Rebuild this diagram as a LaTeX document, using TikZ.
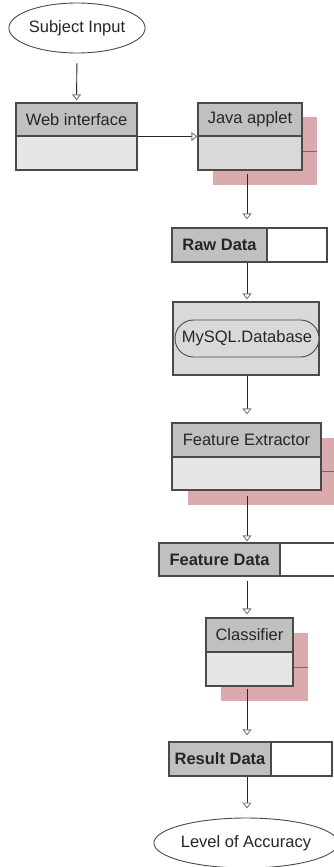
\documentclass[tikz,border=0pt]{standalone}
\usepackage{fontspec}
\setmainfont{Liberation Sans}
\usetikzlibrary{arrows.meta,shapes.geometric,shapes.misc}

\definecolor{hdrgray}{HTML}{C0C0C0}
\definecolor{bodygray}{HTML}{E6E6E6}
\definecolor{dbgray}{HTML}{D9D9D9}
\definecolor{shadowpink}{HTML}{DAAAAC}
\definecolor{shadowline}{HTML}{8E5E5E}
\definecolor{edge}{HTML}{4A4A4A}
\definecolor{ink}{HTML}{262626}
\definecolor{tipgray}{HTML}{7A7A7A}

\tikzset{
  box/.style={draw=edge, line width=1.1pt, inner sep=0pt, text=ink,
    font=\fontsize{16.5pt}{19pt}\selectfont},
  hdr/.style={box, fill=hdrgray},
  body/.style={box, fill=bodygray},
  datalabel/.style={box, fill=hdrgray, font=\fontsize{16.5pt}{19pt}\selectfont\bfseries},
  dataslot/.style={box, fill=white},
  terminal/.style={ellipse, draw=edge, line width=0.9pt, fill=white, inner sep=0pt,
    text=ink, font=\fontsize{16.5pt}{19pt}\selectfont},
  stackshadow/.style={draw=none, fill=shadowpink, inner sep=0pt},
  stackline/.style={draw=shadowline, line width=0.8pt},
  flow/.style={draw=ink, line width=0.9pt,
    -{Triangle[open, length=6pt, width=9pt, color=tipgray]}}
}

\begin{document}
\begin{tikzpicture}[x=1pt, y=-1pt]
  \useasboundingbox (0,0) rectangle (334,867);
  \clip (0,0) rectangle (334,867);
  \fill[white] (0,0) rectangle (334,867);

  % column that carries the vertical flow
  \coordinate (col) at (247,0);

  % start terminal
  \node[terminal, minimum width=133pt, minimum height=50pt] (subj) at (77,28) {Subject Input};

  % web interface
  \node[hdr,  minimum width=121pt, minimum height=33pt] (webH) at (76.5,119.5) {Web interface};
  \node[body, minimum width=121pt, minimum height=34pt] (webB) at (76.5,153) {};

  % java applet with stacked shadow
  \node[stackshadow, minimum width=104pt, minimum height=68pt] (javaS) at (265,151) {};
  \node[hdr, minimum width=104pt, minimum height=33pt] (javaH) at (250,119.5) {Java applet};
  \node[box, fill=dbgray, minimum width=104pt, minimum height=34pt] (javaB) at (250,153) {};
  \draw[stackline] (javaS.center -| javaB.east) -- (javaS.east);

  % raw data store
  \node[datalabel, minimum width=95pt, minimum height=34pt] (rawL) at (219.5,245) {Raw Data};
  \node[dataslot,  minimum width=60pt, minimum height=34pt] (rawR) at (297,245) {};

  % database
  \node[box, fill=dbgray, minimum width=146pt, minimum height=73pt] (db) at (246,338.5) {};
  \node[rounded rectangle, draw=edge, line width=0.9pt, fill=dbgray, inner sep=0pt,
        minimum width=144pt, minimum height=37pt, text=ink,
        font=\fontsize{16.5pt}{19pt}\selectfont] (dbL) at (247,338.5) {MySQL.Database};

  % feature extractor with stacked shadow
  \node[stackshadow, minimum width=162pt, minimum height=67pt] (feS) at (269,471.5) {};
  \node[hdr,  minimum width=149pt, minimum height=34pt] (feH) at (246.5,440) {Feature Extractor};
  \node[body, minimum width=149pt, minimum height=33pt] (feB) at (246.5,473.5) {};
  \draw[stackline] (feS.center -| feB.east) -- (feS.east);

  % feature data store
  \node[datalabel, minimum width=121pt, minimum height=33pt] (fdL) at (219.5,559.5) {Feature Data};
  \node[dataslot,  minimum width=70pt,  minimum height=33pt] (fdR) at (315,559.5) {};

  % classifier with stacked shadow
  \node[stackshadow, minimum width=87pt, minimum height=68pt] (clS) at (264.5,667) {};
  \node[hdr,  minimum width=87pt, minimum height=34pt] (clH) at (249.5,635) {Classifier};
  \node[body, minimum width=87pt, minimum height=34pt] (clB) at (249.5,669) {};
  \draw[stackline] (clS.center -| clB.east) -- (clS.east);

  % result data store
  \node[datalabel, minimum width=102pt, minimum height=34pt] (resL) at (220,759) {Result Data};
  \node[dataslot,  minimum width=61pt,  minimum height=34pt] (resR) at (301.5,759) {};

  % end terminal
  \node[terminal, minimum width=173pt, minimum height=50pt] (acc) at (246,843) {Level of Accuracy};

  % connectors
  \draw[flow, shorten <=10pt, shorten >=2pt] (subj.south) -- (webH.north);
  \draw[flow] (webH.south east) -- (javaH.south west);
  \draw[flow, shorten <=3pt, shorten >=8pt] (javaB.south -| col) -- (rawL.north -| col);
  \draw[flow, shorten >=2pt] (rawL.south -| col) -- (db.north -| col);
  \draw[flow, shorten >=8pt] (db.south -| col) -- (feH.north -| col);
  \draw[flow, shorten <=5pt, shorten >=1pt] (feB.south -| col) -- (fdL.north -| col);
  \draw[flow, shorten <=4pt, shorten >=3pt] (fdL.south -| col) -- (clH.north -| col);
  \draw[flow, shorten <=2pt, shorten >=6pt] (clB.south -| col) -- (resL.north -| col);
  \draw[flow, shorten >=9pt] (resL.south -| col) -- (acc.north -| col);
\end{tikzpicture}
\end{document}
